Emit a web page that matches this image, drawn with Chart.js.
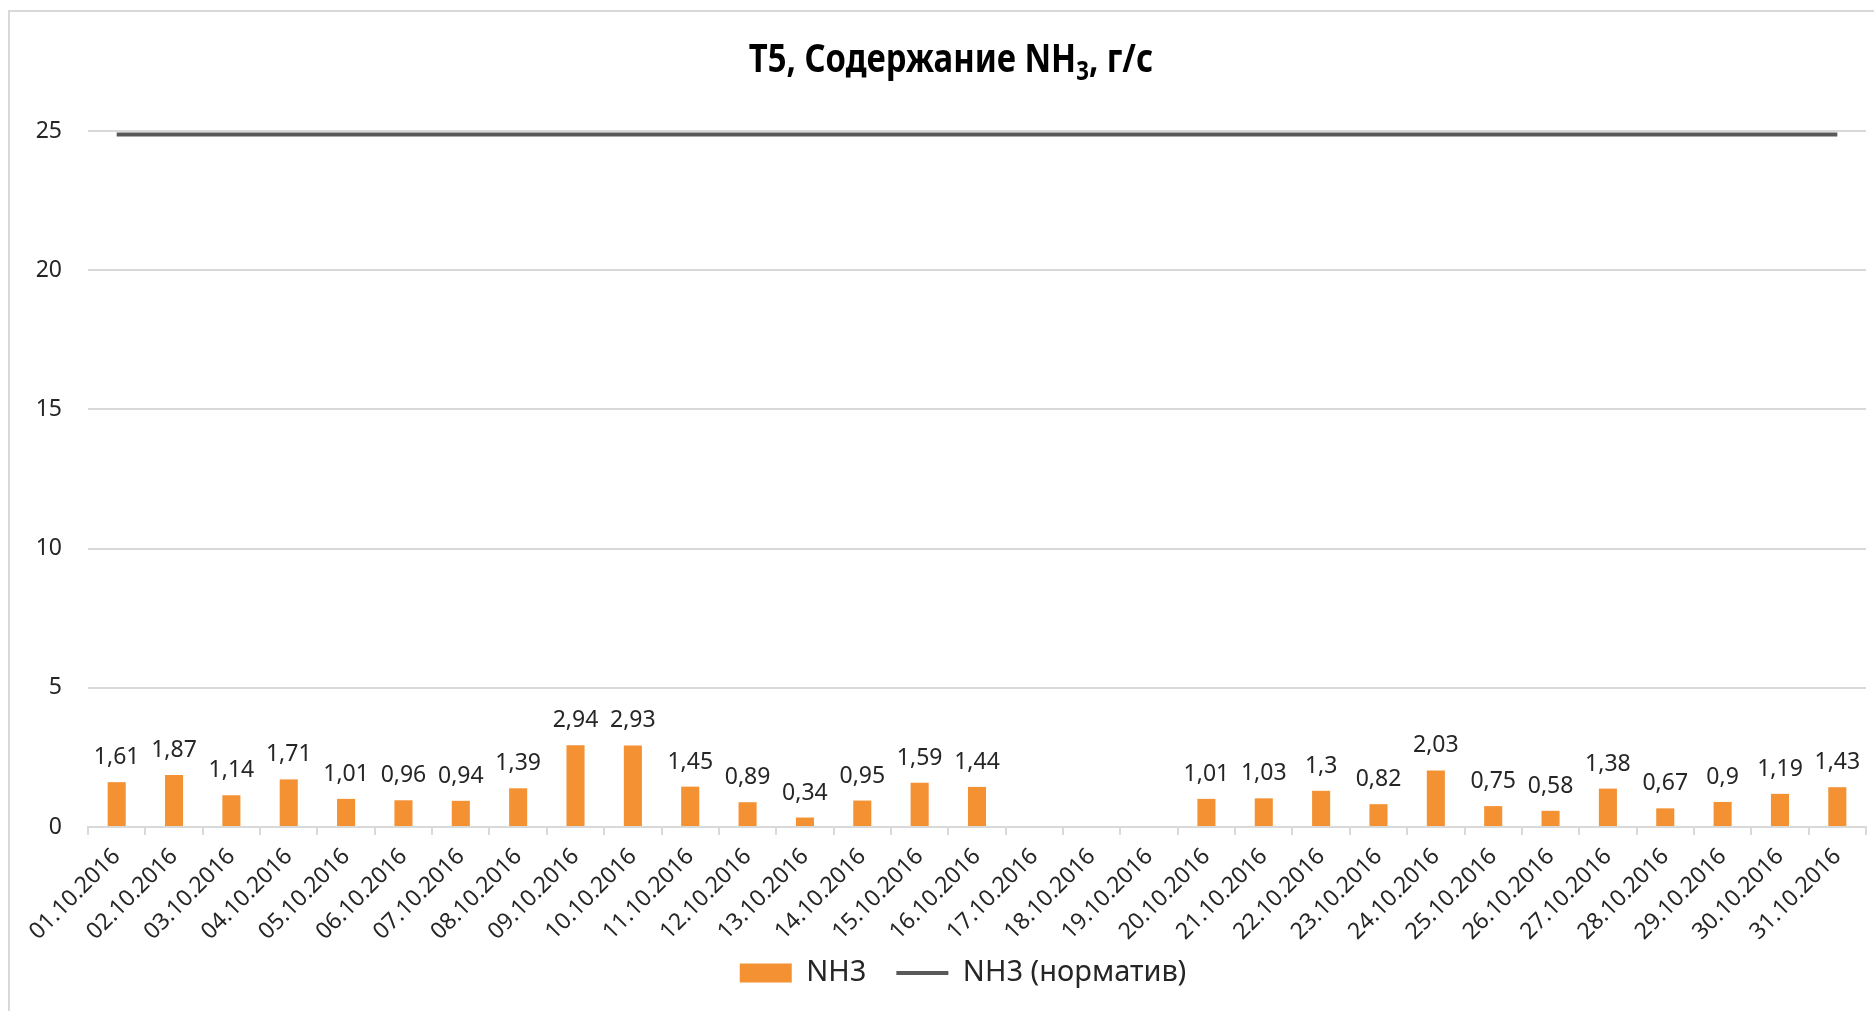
<!DOCTYPE html>
<html>
<head>
<meta charset="utf-8">
<script src="https://cdn.jsdelivr.net/npm/chart.js@4"></script>
<style>
  html, body { margin: 0; padding: 0; background: #fff; }
  #wrap { width: 1874px; height: 1011px; }
</style>
</head>
<body>
<div id="wrap"><canvas id="myChart" width="1874" height="1011"></canvas></div>
<script>
const dates = ["01.10.2016","02.10.2016","03.10.2016","04.10.2016","05.10.2016","06.10.2016","07.10.2016","08.10.2016","09.10.2016","10.10.2016","11.10.2016","12.10.2016","13.10.2016","14.10.2016","15.10.2016","16.10.2016","17.10.2016","18.10.2016","19.10.2016","20.10.2016","21.10.2016","22.10.2016","23.10.2016","24.10.2016","25.10.2016","26.10.2016","27.10.2016","28.10.2016","29.10.2016","30.10.2016","31.10.2016"]
const nh3 = [1.61,1.87,1.14,1.71,1.01,0.96,0.94,1.39,2.94,2.93,1.45,0.89,0.34,0.95,1.59,1.44,null,null,null,1.01,1.03,1.3,0.82,2.03,0.75,0.58,1.38,0.67,0.9,1.19,1.43]
const nh3Norm = [24.87,24.87,24.87,24.87,24.87,24.87,24.87,24.87,24.87,24.87,24.87,24.87,24.87,24.87,24.87,24.87,24.87,24.87,24.87,24.87,24.87,24.87,24.87,24.87,24.87,24.87,24.87,24.87,24.87,24.87,24.87]
const yTicks = [0,5,10,15,20,25]

const textColor = "#262626"
const gridColor = "#d9d9d9"

// labels above bars, comma as decimal separator
const barLabels = {
  id: "barLabels",
  afterDatasetsDraw(chart) {
    const ctx = chart.ctx
    const meta = chart.getDatasetMeta(0)
    ctx.save()
    ctx.font = "23px 'Noto Sans'"
    ctx.fillStyle = textColor
    ctx.textAlign = "center"
    ctx.textBaseline = "alphabetic"
    meta.data.forEach((bar, i) => {
      const v = nh3[i]
      if (v === null) return
      ctx.fillText(String(v).replace(".", ","), bar.x, bar.y - 18)
    })
    ctx.restore()
  }
}

// title with a real subscript, slightly condensed
const titleSub = {
  id: "titleSub",
  afterDraw(chart) {
    const ctx = chart.ctx
    const parts = [["T5, Содержание NH", 0, 40], ["3", 8, 27], [", г/с", 0, 40]]
    const sx = 0.82
    ctx.save()
    ctx.fillStyle = "#000"
    ctx.textBaseline = "alphabetic"
    let w = 0
    parts.forEach(p => { ctx.font = "bold " + p[2] + "px 'Noto Sans'"; w += ctx.measureText(p[0]).width })
    const cx = (chart.chartArea.left + chart.chartArea.right) / 2 - 26
    ctx.translate(cx, 72)
    ctx.scale(sx, 1)
    let x = -w / 2
    parts.forEach(p => {
      ctx.font = "bold " + p[2] + "px 'Noto Sans'"
      ctx.fillText(p[0], x, p[1])
      x += ctx.measureText(p[0]).width
    })
    ctx.restore()
  }
}

// thin frame on the left and top, like the original chart border;
// also put the legend where the original has it
const frame = {
  id: "frame",
  beforeDraw(chart) {
    const ctx = chart.ctx
    ctx.save()
    ctx.strokeStyle = gridColor
    ctx.lineWidth = 2
    ctx.beginPath()
    ctx.moveTo(9, 1011)
    ctx.lineTo(9, 11)
    ctx.lineTo(1874, 11)
    ctx.stroke()
    ctx.restore()
    const lg = chart.legend
    if (!lg._moved) {
      const dy = 963 - (lg.top + lg.height / 2)
      lg.top += dy
      lg.bottom += dy
      lg.left += 30
      lg.right += 30
      lg._moved = true
    }
  }
}

const config = {
  data: {
    labels: dates,
    datasets: [
      {
        type: "bar",
        label: "NH3",
        data: nh3,
        backgroundColor: "rgb(243,145,51)",
        borderWidth: 0,
        categoryPercentage: 1,
        barPercentage: 0.315,
        pointStyle: "rect"
      },
      {
        type: "line",
        label: "NH3 (норматив)",
        data: nh3Norm,
        borderColor: "#595959",
        backgroundColor: "#595959",
        borderWidth: 4,
        pointRadius: 0,
        pointStyle: "line"
      }
    ]
  },
  options: {
    responsive: false,
    animation: false,
    layout: { padding: { left: 0, right: 8, top: 131, bottom: 0 } },
    plugins: {
      title: { display: false },
      legend: {
        position: "bottom",
        labels: {
          usePointStyle: true,
          pointStyleWidth: 52,
          boxHeight: 19,
          padding: 30,
          color: textColor,
          font: { family: "'Noto Sans'", size: 29 }
        }
      },
      tooltip: { enabled: false }
    },
    scales: {
      x: {
        offset: true,
        grid: { display: true, drawOnChartArea: false, drawTicks: true, tickLength: 8, color: gridColor, lineWidth: 2, offset: true },
        border: { display: true, color: gridColor, width: 2 },
        ticks: {
          autoSkip: false,
          maxRotation: 45,
          minRotation: 45,
          padding: 8,
          color: textColor,
          font: { family: "'Noto Sans'", size: 23 }
        },
        afterFit(scale) { scale.height = 115 }
      },
      y: {
        min: 0,
        max: 25,
        afterBuildTicks(scale) { scale.ticks = yTicks.map(v => ({ value: v })) },
        grid: { color: gridColor, lineWidth: 2, drawTicks: false },
        border: { display: false },
        ticks: {
          padding: 26,
          color: textColor,
          font: { family: "'Noto Sans'", size: 23 }
        },
        afterFit(scale) { scale.width = 88 }
      }
    }
  },
  plugins: [frame, barLabels, titleSub]
}

const myChart = document.getElementById("myChart")
new Chart(myChart, config)
</script>
</body>
</html>
